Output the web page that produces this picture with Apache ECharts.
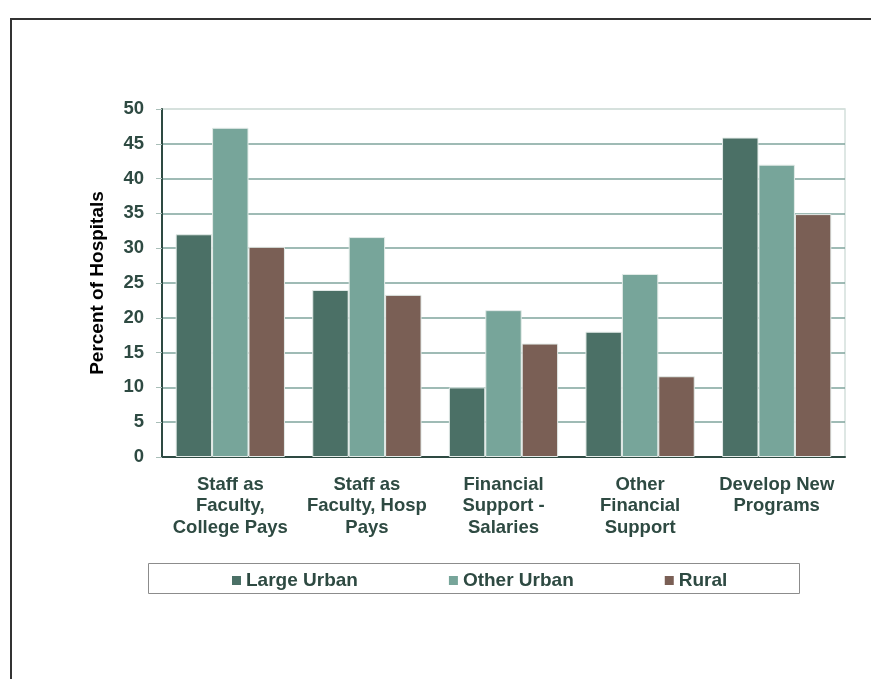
<!DOCTYPE html>
<html>
<head>
<meta charset="utf-8">
<script src="https://cdn.jsdelivr.net/npm/echarts@6/dist/echarts.min.js"></script>
<style>
  html, body { margin: 0; padding: 0; background: #ffffff; }
  #chart { width: 871px; height: 679px; }
</style>
</head>
<body>
<div id="chart"></div>
<script>
// Roles of hospitals in nursing education, by hospital location
const categories = [
  'Staff as\nFaculty,\nCollege Pays',
  'Staff as\nFaculty, Hosp\nPays',
  'Financial\nSupport -\nSalaries',
  'Other\nFinancial\nSupport',
  'Develop New\nPrograms'
];
const seriesNames = ['Large Urban', 'Other Urban', 'Rural'];
const largeUrban = [32.0, 24.0, 10.0, 18.0, 45.9];
const otherUrban = [47.3, 31.6, 21.1, 26.3, 42.0];
const rural      = [30.2, 23.3, 16.3, 11.6, 34.9];
const yTicks = { min: 0, max: 50, interval: 5 };

const colors = ['#4b7066', '#77a59a', '#7a5f55'];
const textColor = '#2e4a42';
const font = '"Liberation Sans", Arial, sans-serif';

const chart = echarts.init(document.getElementById('chart'), null, { renderer: 'canvas' });

// splitLine colours: the top line coincides with the light plot border
const gridLineColors = [];
for (let v = yTicks.min; v <= yTicks.max; v += yTicks.interval) {
  gridLineColors.push(v === yTicks.max ? '#d3dfdb' : '#7fa59c');
}

const bar = (name, data, color) => ({
  name,
  type: 'bar',
  data,
  barGap: '0%',
  barCategoryGap: '20%',
  itemStyle: { color, borderColor: '#e3ebe8', borderWidth: 1 },
  emphasis: { disabled: true }
});

chart.setOption({
  backgroundColor: '#ffffff',
  animation: false,
  textStyle: { fontFamily: font },
  grid: {
    left: 162, right: 26, top: 109, bottom: 222,
    show: true, borderColor: '#d3dfdb', borderWidth: 1.5,
    containLabel: false
  },
  legend: {
    data: seriesNames,
    left: 227,
    top: 566,
    itemWidth: 9,
    itemHeight: 9,
    itemGap: 91,
    icon: 'rect',
    itemStyle: { borderWidth: 0 },
    textStyle: { fontSize: 19, fontWeight: 'bold', color: textColor, fontFamily: font, padding: [0, 0, 0, 0] }
  },
  xAxis: {
    type: 'category',
    data: categories,
    axisLine: { lineStyle: { color: '#2e4a42', width: 2 } },
    axisTick: { show: false },
    axisLabel: {
      interval: 0,
      margin: 17,
      fontSize: 18.5,
      fontWeight: 'bold',
      color: textColor,
      lineHeight: 21.5,
      fontFamily: font
    }
  },
  yAxis: {
    type: 'value',
    min: yTicks.min,
    max: yTicks.max,
    interval: yTicks.interval,
    name: 'Percent of Hospitals',
    nameLocation: 'middle',
    nameGap: 55,
    nameTextStyle: { fontSize: 19, fontWeight: 'bold', color: '#000000', fontFamily: font },
    axisLine: { show: true, lineStyle: { color: '#2e4a42', width: 2 } },
    axisTick: { show: true, inside: false, length: 6, lineStyle: { color: '#a9beb8' } },
    axisLabel: { margin: 18, fontSize: 18.5, fontWeight: 'bold', color: textColor, fontFamily: font },
    splitLine: { show: true, lineStyle: { color: gridLineColors, width: 1.5 } }
  },
  series: [
    bar(seriesNames[0], largeUrban, colors[0]),
    bar(seriesNames[1], otherUrban, colors[1]),
    bar(seriesNames[2], rural, colors[2])
  ],
  graphic: [
    {
      // outer frame of the figure
      type: 'rect',
      shape: { x: 11, y: 19, width: 900, height: 700 },
      style: { fill: null, stroke: '#333333', lineWidth: 2 },
      silent: true
    },
    {
      // box around the legend
      type: 'rect',
      shape: { x: 148.5, y: 563.5, width: 651, height: 30 },
      style: { fill: null, stroke: '#8c8c8c', lineWidth: 1 },
      silent: true,
      z: -1
    }
  ]
});
</script>
</body>
</html>
